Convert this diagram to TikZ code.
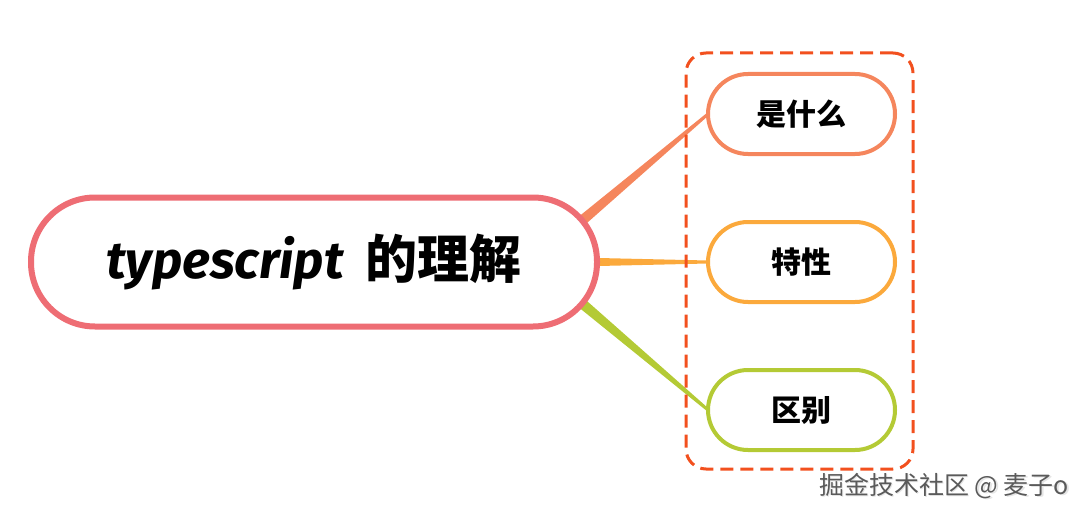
\documentclass[tikz,border=0pt]{standalone}
\usepackage{fontspec}
\newfontfamily\cjk{Noto Sans CJK SC}
\newfontfamily\lat{Fira Sans}
\usetikzlibrary{calc,backgrounds}
\definecolor{mainc}{HTML}{EE6D74}
\definecolor{c1c}{HTML}{F5865D}
\definecolor{c2c}{HTML}{FBA93C}
\definecolor{c3c}{HTML}{B4CA35}
\definecolor{grpc}{HTML}{F2501E}
\definecolor{wmc}{HTML}{5A5A5A}
\tikzset{
  mainbox/.style={draw=mainc, line width=6pt, fill=white, rounded corners=64pt,
    minimum width=566pt, minimum height=129pt, inner sep=0pt, outer sep=0pt},
  childbox/.style={line width=4pt, fill=white, rounded corners=40pt,
    minimum width=187pt, minimum height=80pt, inner sep=0pt, outer sep=0pt,
    font=\cjk\bfseries\fontsize{30}{36}\selectfont},
  groupbox/.style={draw=grpc, line width=3pt, dash pattern=on 13pt off 7pt,
    rounded corners=20pt, minimum width=227pt, minimum height=416pt, inner sep=0pt},
  watermark/.style={text=wmc, font=\cjk\fontsize{25}{30}\selectfont, inner sep=0pt}
}
\begin{document}
\begin{tikzpicture}[x=1pt,y=-1pt]
\useasboundingbox (0,0) rectangle (1086,516);
\node[groupbox] (grp) at (799.5,261) {};
\node[mainbox] (main) at (314,262) {{\lat\bfseries\itshape\fontsize{52}{62}\selectfont typescript}\hspace{22pt}{\cjk\bfseries\fontsize{52}{62}\selectfont 的理解}};
\node[childbox, draw=c1c] (c1) at (801.5,114) {是什么};
\node[childbox, draw=c2c] (c2) at (801.5,262) {特性};
\node[childbox, draw=c3c] (c3) at (801.5,410) {区别};
\coordinate (hub) at ($(main.east)+(-64,0)$);
\begin{scope}[on background layer]
\fill[c1c] ($(hub)!6.5pt!90:(c1.west)$) -- ($(c1.west)!1.5pt!-90:(hub)$) -- ($(c1.west)!1.5pt!90:(hub)$) -- ($(hub)!6.5pt!-90:(c1.west)$) -- cycle;
\fill[c2c] ($(hub)!5.5pt!90:(c2.west)$) -- ($(c2.west)!1.5pt!-90:(hub)$) -- ($(c2.west)!1.5pt!90:(hub)$) -- ($(hub)!5.5pt!-90:(c2.west)$) -- cycle;
\fill[c3c] ($(hub)!6.5pt!90:(c3.west)$) -- ($(c3.west)!1.5pt!-90:(hub)$) -- ($(c3.west)!1.5pt!90:(hub)$) -- ($(hub)!6.5pt!-90:(c3.west)$) -- cycle;
\end{scope}
\node[watermark, text=white!80!gray] at (945.5,487.5) {掘金技术社区 @ 麦子o};
\node[watermark] (wm) at (944,486) {掘金技术社区 @ 麦子o};
\end{tikzpicture}
\end{document}
